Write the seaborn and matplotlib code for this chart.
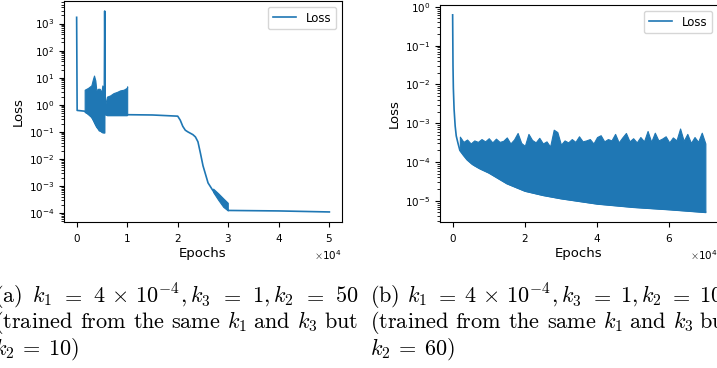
import matplotlib
matplotlib.use("Agg")
import numpy as np
import matplotlib.pyplot as plt
import seaborn as sns
from matplotlib.ticker import LogLocator, MultipleLocator

# ---- panel (a): k2 = 50 ----
a_epoch = [0, 100, 1600, 3000, 4500, 5450, 5550, 5650, 5800, 10000, 10100,
           15000, 20000, 20500, 21000, 21500, 22000, 23000, 23500, 24000,
           24500, 25000, 26000, 27000, 28000, 29000, 30000, 40000, 50000]
a_loss = [1700, 0.62, 0.58, 0.35, 0.11, 0.095, 2900, 1.2, 0.42, 0.42, 0.43,
          0.42, 0.38, 0.27, 0.16, 0.115, 0.10, 0.079, 0.065, 0.043,
          0.016, 0.0056, 0.0013, 6.6e-4, 4.0e-4, 2.3e-4, 1.25e-4, 1.2e-4, 1.1e-4]

# oscillation bands in (a): epochs, lower and upper envelope
a_band1_epoch = [1590, 2250, 2910, 3240, 3440, 3700, 3900, 4230, 4560, 4890, 5090, 5360, 5490]
a_band1_lo = [0.54, 0.47, 0.35, 0.27, 0.22, 0.175, 0.15, 0.13, 0.115, 0.10, 0.095, 0.094, 0.094]
a_band1_hi = [3.6, 4.2, 5.2, 9.1, 12, 7.9, 3.4, 3.9, 3.9, 2.9, 5.2, 4.5, 4.0]
a_band2_epoch = [5700, 6000, 6600, 7300, 8000, 8600, 9300, 9900, 10000]
a_band2_lo = [0.45, 0.41, 0.41, 0.41, 0.41, 0.41, 0.41, 0.41, 0.42]
a_band2_hi = [1.1, 2.0, 2.2, 2.7, 3.0, 3.4, 3.6, 4.2, 4.8]
a_band3_epoch = [27000, 28000, 29000, 29900]
a_band3_lo = [6.0e-4, 3.1e-4, 1.7e-4, 1.25e-4]
a_band3_hi = [8.0e-4, 5.4e-4, 3.5e-4, 2.4e-4]

# ---- panel (b): k2 = 100 ----
b_epoch = [0, 100, 200, 400, 700, 1000, 1500, 2000, 3000, 4000, 5500, 7500,
           10000, 15000, 20000, 25000, 30000, 40000, 50000, 60000, 70000]
b_loss = [0.62, 0.03, 0.008, 2.3e-3, 8.5e-4, 4.7e-4, 3.0e-4, 2.0e-4, 1.5e-4,
          1.15e-4, 8.7e-5, 6.8e-5, 5.3e-5, 2.8e-5, 1.8e-5, 1.4e-5, 1.15e-5,
          8.4e-6, 6.9e-6, 6.0e-6, 5.1e-6]

# upper envelope of the oscillation in (b), one value per 1000 epochs from 2000
b_band_hi = [4.5e-4, 3.3e-4, 3.8e-4, 3.0e-4, 3.6e-4, 3.3e-4, 3.9e-4, 3.4e-4, 4.1e-4,
             3.2e-4, 4.0e-4, 3.3e-4, 3.5e-4, 4.3e-4, 3.0e-4, 3.8e-4, 5.6e-4, 3.1e-4,
             2.6e-4, 5.3e-4, 3.7e-4, 3.2e-4, 4.2e-4, 3.0e-4, 3.4e-4, 2.5e-4, 6.8e-4,
             5.9e-4, 2.8e-4, 3.6e-4, 3.2e-4, 3.9e-4, 3.3e-4, 4.6e-4, 3.4e-4, 3.6e-4,
             3.9e-4, 3.0e-4, 4.4e-4, 4.9e-4, 3.4e-4, 3.9e-4, 3.6e-4, 5.3e-4, 3.2e-4,
             4.3e-4, 5.6e-4, 3.4e-4, 4.1e-4, 3.2e-4, 4.4e-4, 3.4e-4, 6.3e-4, 3.3e-4,
             5.7e-4, 3.6e-4, 4.0e-4, 4.6e-4, 3.2e-4, 4.3e-4, 3.6e-4, 7.3e-4, 3.5e-4,
             5.3e-4, 3.1e-4, 4.4e-4, 3.3e-4, 5.7e-4, 3.0e-4]
b_band_epoch = list(range(2000, 71000, 1000))

captions = {
    "a": [["(a)", "$k_1$", "$=$", r"$4\,\times\,10^{-4},k_3$", "$=$", "$1,k_2$", "$=$", "$50$"],
          ["(trained", "from", "the", "same", "$k_1$", "and", "$k_3$", "but"],
          [r"$k_2\:=\:10)$"]],
    "b": [["(b)", "$k_1$", "$=$", r"$4\,\times\,10^{-4},k_3$", "$=$", "$1,k_2$", "$=$", "$100$"],
          ["(trained", "from", "the", "same", "$k_1$", "and", "$k_3$", "but"],
          [r"$k_2\:=\:60)$"]],
}

W, H = 717, 368
plt.rcParams["mathtext.fontset"] = "cm"
blue = "#1f77b4"

fig = plt.figure(figsize=(W / 100, H / 100), dpi=100)
ax1 = fig.add_axes([64 / W, 1 - 222 / H, 278 / W, 221 / H])
ax2 = fig.add_axes([440 / W, 1 - 222 / H, 278 / W, 217 / H])

sns.lineplot(x=a_epoch, y=a_loss, ax=ax1, color=blue, linewidth=1.2,
             estimator=None, sort=False, label="Loss")
for ex, lo, hi in [(a_band1_epoch, a_band1_lo, a_band1_hi),
                   (a_band2_epoch, a_band2_lo, a_band2_hi),
                   (a_band3_epoch, a_band3_lo, a_band3_hi)]:
    ax1.fill_between(ex, lo, hi, color=blue, linewidth=0.8, edgecolor=blue)

sns.lineplot(x=b_epoch, y=b_loss, ax=ax2, color=blue, linewidth=1.2,
             estimator=None, sort=False, label="Loss")
# lower edge of the band follows the loss curve
b_lo = 10 ** np.interp(b_band_epoch, b_epoch, np.log10(b_loss))
ax2.fill_between(b_band_epoch, b_lo, b_band_hi, color=blue, linewidth=0.8, edgecolor=blue)

ax1.xaxis.set_major_locator(MultipleLocator(10000))
ax2.xaxis.set_major_locator(MultipleLocator(20000))
for ax in (ax1, ax2):
    ax.set_yscale("log")
    ax.yaxis.set_major_locator(LogLocator(base=10, numticks=20))
    ax.ticklabel_format(axis="x", style="sci", scilimits=(0, 0), useMathText=True)
    ax.tick_params(labelsize=7.5)
    ax.xaxis.get_offset_text().set_fontsize(7.5)
    ax.set_xlabel("Epochs", fontsize=9.5, labelpad=2)
    ax.set_ylabel("Loss", fontsize=9.5, labelpad=3)
    ax.legend(loc="upper right", fontsize=8.5)

# captions, justified like the LaTeX paragraph
r = fig.canvas.get_renderer()
baselines = [302, 328, 355]


def put_line(tokens, x0, x1, y, justify):
    texts = [fig.text(0, 0, t if t.startswith("$") else r"$\mathrm{%s}$" % t,
                      fontsize=16, va="baseline", ha="left") for t in tokens]
    widths = [t.get_window_extent(r).width for t in texts]
    gap = (x1 - x0 - sum(widths)) / max(len(tokens) - 1, 1) if justify else 0
    x = x0
    for t, w in zip(texts, widths):
        t.set_position((x / W, 1 - y / H))
        x += w + gap


for key, (x0, x1) in {"a": (-6, 358), "b": (369.5, 733.5)}.items():
    for i, toks in enumerate(captions[key]):
        put_line(toks, x0, x1, baselines[i], justify=(i < 2))

fig.savefig("out.png", dpi=100)
